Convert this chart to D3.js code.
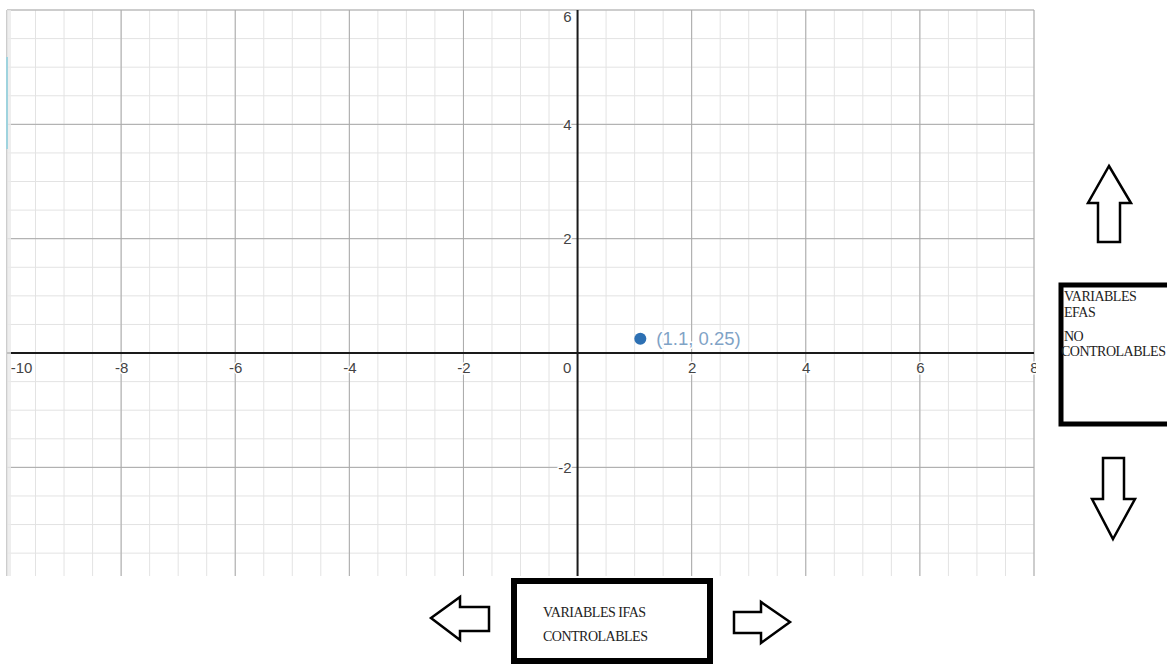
<!DOCTYPE html>
<html>
<head>
<meta charset="utf-8">
<script src="https://d3js.org/d3.v7.min.js"></script>
<style>
  body { margin: 0; background: #fff; }
  svg { display: block; }
  .tick text { font-family: "Liberation Sans", Arial, sans-serif; }
  .box text { font-family: "Liberation Serif", "Times New Roman", serif; fill: #222; letter-spacing: -0.5px; }
</style>
</head>
<body>
<svg width="1167" height="664"></svg>
<script>

// data
var xDomain = [-10, 8];
var yDomain = [6, -3.9];
var xTicks = [-10, -8, -6, -4, -2, 0, 2, 4, 6, 8];
var yTicks = [-2, 2, 4, 6];
var points = [{x: 1.1, y: 0.25, label: "(1.1, 0.25)"}];
var rightBoxLines = ["VARIABLES", "EFAS", "NO", "CONTROLABLES"];
var bottomBoxLines = ["VARIABLES IFAS", "CONTROLABLES"];

var svg = d3.select("svg");

var x = d3.scaleLinear().domain(xDomain).range([7, 1034]);
var y = d3.scaleLinear().domain(yDomain).range([10, 576]);

svg.append("defs").append("clipPath").attr("id", "plot")
  .append("rect").attr("x", 0).attr("y", 0).attr("width", 1036).attr("height", 577);

var g = svg.append("g").attr("clip-path", "url(#plot)");

// minor grid (every 0.5)
var minorX = d3.range(xDomain[0], xDomain[1] + 0.01, 0.5);
var minorY = d3.range(-3.5, 6.01, 0.5);

g.selectAll(".mx").data(minorX).enter().append("line")
  .attr("x1", d => x(d)).attr("x2", d => x(d))
  .attr("y1", y.range()[0]).attr("y2", y.range()[1])
  .attr("stroke", "#e3e3e3").attr("stroke-width", 1);

g.selectAll(".my").data(minorY).enter().append("line")
  .attr("y1", d => y(d)).attr("y2", d => y(d))
  .attr("x1", x.range()[0]).attr("x2", x.range()[1])
  .attr("stroke", "#e3e3e3").attr("stroke-width", 1);

// major grid (every 2)
g.selectAll(".Mx").data(xTicks).enter().append("line")
  .attr("x1", d => x(d)).attr("x2", d => x(d))
  .attr("y1", y.range()[0]).attr("y2", y.range()[1])
  .attr("stroke", "#a9a9a9").attr("stroke-width", 1);

g.selectAll(".My").data(d3.range(-2, 6.01, 2)).enter().append("line")
  .attr("y1", d => y(d)).attr("y2", d => y(d))
  .attr("x1", x.range()[0]).attr("x2", x.range()[1])
  .attr("stroke", "#a9a9a9").attr("stroke-width", 1);

// axes lines
g.append("line")
  .attr("x1", x.range()[0]).attr("x2", x.range()[1])
  .attr("y1", y(0)).attr("y2", y(0))
  .attr("stroke", "#1a1a1a").attr("stroke-width", 2);
g.append("line")
  .attr("x1", x(0)).attr("x2", x(0))
  .attr("y1", y.range()[0]).attr("y2", y.range()[1])
  .attr("stroke", "#1a1a1a").attr("stroke-width", 2);

// tick labels
var xAxis = g.append("g")
  .attr("transform", "translate(0," + y(0) + ")")
  .call(d3.axisBottom(x).tickValues(xTicks).tickSize(0).tickPadding(9)
    .tickFormat(d => d < 0 ? "-" + Math.abs(d) : d));
xAxis.select(".domain").remove();
xAxis.selectAll("text").attr("fill", "#444").attr("font-size", 15)
  .attr("paint-order", "stroke").attr("stroke", "#fff").attr("stroke-width", 3)
  .attr("dx", d => d === 0 ? -11 : (d === -10 ? 14 : 0));

var yAxis = g.append("g")
  .attr("transform", "translate(" + x(0) + ",0)")
  .call(d3.axisLeft(y).tickValues(yTicks).tickSize(0).tickPadding(6)
    .tickFormat(d => d < 0 ? "-" + Math.abs(d) : d));
yAxis.select(".domain").remove();
yAxis.selectAll("text").attr("fill", "#444").attr("font-size", 15)
  .attr("paint-order", "stroke").attr("stroke", "#fff").attr("stroke-width", 3)
  .attr("dy", d => d === 6 ? "0.75em" : "0.32em");

// left edge shade and stray cyan stroke
svg.append("rect").attr("x", 7).attr("y", 10).attr("width", 4).attr("height", 566)
  .attr("fill", "#eaeaea").attr("opacity", 0.8);
svg.append("line").attr("x1", 7).attr("x2", 7).attr("y1", 57).attr("y2", 149)
  .attr("stroke", "#9fd3de").attr("stroke-width", 2);

// point + label
var pt = g.selectAll(".pt").data(points).enter().append("g");
pt.append("circle")
  .attr("cx", d => x(d.x)).attr("cy", d => y(d.y)).attr("r", 6)
  .attr("fill", "#2d70b3");
pt.append("text")
  .attr("x", d => x(d.x) + 16).attr("y", d => y(d.y) + 6)
  .attr("font-family", "Liberation Sans, Arial, sans-serif").attr("font-size", 18.5)
  .attr("fill", "#7fa3c6")
  .attr("paint-order", "stroke").attr("stroke", "#fff").attr("stroke-width", 3)
  .text(d => d.label);

// right box
var rb = svg.append("g").attr("class", "box");
rb.append("rect").attr("x", 1061).attr("y", 285).attr("width", 120).attr("height", 139)
  .attr("fill", "#fff").attr("stroke", "#000").attr("stroke-width", 5);
rb.selectAll("text").data(rightBoxLines).enter().append("text")
  .attr("x", (d, i) => i === 3 ? 1061 : 1064)
  .attr("y", (d, i) => [301, 317, 341, 356][i])
  .attr("font-size", 14)
  .text(d => d);

// bottom box
var bb = svg.append("g").attr("class", "box");
bb.append("rect").attr("x", 514).attr("y", 581).attr("width", 196).attr("height", 80)
  .attr("fill", "#fff").attr("stroke", "#000").attr("stroke-width", 6);
bb.selectAll("text").data(bottomBoxLines).enter().append("text")
  .attr("x", 543)
  .attr("y", (d, i) => [617, 641][i])
  .attr("font-size", 14)
  .text(d => d);

// block arrows
var arrows = [
  "M1109,166 L1131,203 L1120,203 L1120,242 L1098,242 L1098,203 L1088,203 Z",
  "M1113,539 L1135,499 L1124,499 L1124,458 L1103,458 L1103,499 L1092,499 Z",
  "M431,618 L460,597 L460,607 L489,607 L489,631 L460,631 L460,640 Z",
  "M790,622 L761,602 L761,612 L734,612 L734,633 L761,633 L761,643 Z"
];
svg.selectAll(".arrow").data(arrows).enter().append("path")
  .attr("d", d => d)
  .attr("fill", "#fff").attr("stroke", "#000").attr("stroke-width", 2.5)
  .attr("stroke-linejoin", "miter");

</script>
</body>
</html>
